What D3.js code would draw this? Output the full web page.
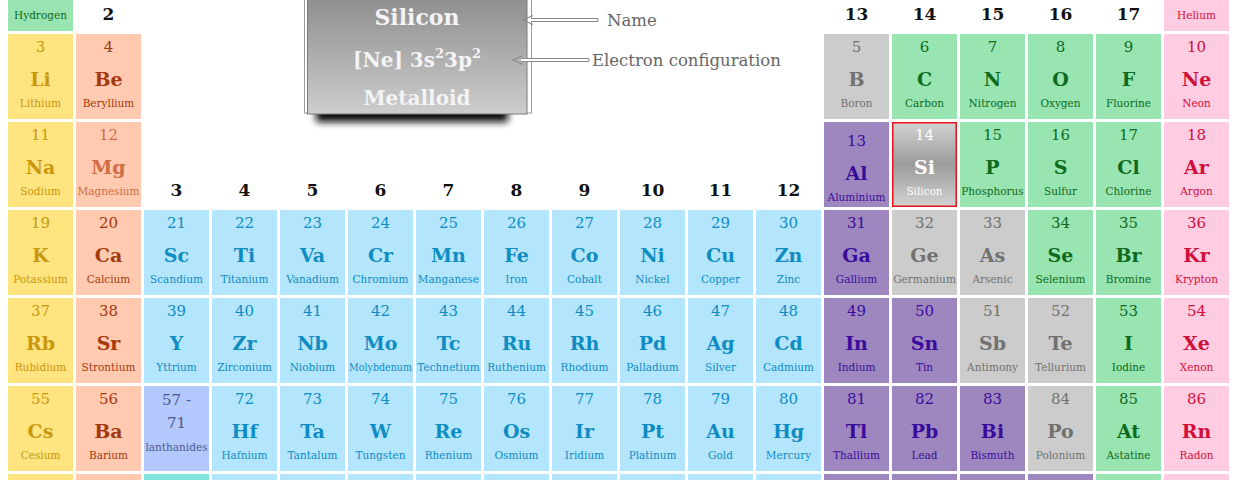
<!DOCTYPE html>
<html><head><meta charset="utf-8">
<script src="https://cdn.jsdelivr.net/npm/d3@7"></script>
<style>body{margin:0;background:#fff;overflow:hidden}svg{display:block}</style>
</head><body><svg id="chart" width="1238" height="480"></svg>
<script>
// ---------- DATA ----------
const atomicNumbers = [1,2,
  3,4,5,6,7,8,9,10,
  11,12,13,14,15,16,17,18,
  19,20,21,22,23,24,25,26,27,28,29,30,31,32,33,34,35,36,
  37,38,39,40,41,42,43,44,45,46,47,48,49,50,51,52,53,54,
  55,56,"57 - 71",72,73,74,75,76,77,78,79,80,81,82,83,84,85,86,
  87,88,"89 - 103",104,105,106,107,108,109,110,111,112,113,114,115,116,117,118];
const symbols = ["H","He",
  "Li","Be","B","C","N","O","F","Ne",
  "Na","Mg","Al","Si","P","S","Cl","Ar",
  "K","Ca","Sc","Ti","Va","Cr","Mn","Fe","Co","Ni","Cu","Zn","Ga","Ge","As","Se","Br","Kr",
  "Rb","Sr","Y","Zr","Nb","Mo","Tc","Ru","Rh","Pd","Ag","Cd","In","Sn","Sb","Te","I","Xe",
  "Cs","Ba","","Hf","Ta","W","Re","Os","Ir","Pt","Au","Hg","Tl","Pb","Bi","Po","At","Rn",
  "Fr","Ra","","Rf","Db","Sg","Bh","Hs","Mt","Ds","Rg","Cn","Nh","Fl","Mc","Lv","Ts","Og"];
const names = ["Hydrogen","Helium",
  "Lithium","Beryllium","Boron","Carbon","Nitrogen","Oxygen","Fluorine","Neon",
  "Sodium","Magnesium","Aluminium","Silicon","Phosphorus","Sulfur","Chlorine","Argon",
  "Potassium","Calcium","Scandium","Titanium","Vanadium","Chromium","Manganese","Iron","Cobalt","Nickel","Copper","Zinc","Gallium","Germanium","Arsenic","Selenium","Bromine","Krypton",
  "Rubidium","Strontium","Yttrium","Zirconium","Niobium","Molybdenum","Technetium","Ruthenium","Rhodium","Palladium","Silver","Cadmium","Indium","Tin","Antimony","Tellurium","Iodine","Xenon",
  "Cesium","Barium","lanthanides","Hafnium","Tantalum","Tungsten","Rhenium","Osmium","Iridium","Platinum","Gold","Mercury","Thallium","Lead","Bismuth","Polonium","Astatine","Radon",
  "Francium","Radium","actinides","Rutherfordium","Dubnium","Seaborgium","Bohrium","Hassium","Meitnerium","Darmstadtium","Roentgenium","Copernicium","Nihonium","Flerovium","Moscovium","Livermorium","Tennessine","Oganesson"];
const categories = ["non","nob",
  "alk","ae","met","non","non","non","non","nob",
  "alk","ae","post","sel","non","non","non","nob",
  "alk","ae","tr","tr","tr","tr","tr","tr","tr","tr","tr","tr","post","met","met","non","non","nob",
  "alk","ae","tr","tr","tr","tr","tr","tr","tr","tr","tr","tr","post","post","met","met","non","nob",
  "alk","ae","lan","tr","tr","tr","tr","tr","tr","tr","tr","tr","post","post","post","met","non","nob",
  "alk","ae","act","tr","tr","tr","tr","tr","tr","tr","tr","tr","post","post","post","post","non","nob"];
const periodGroups = [
  [1,18],
  [1,2,13,14,15,16,17,18],
  [1,2,13,14,15,16,17,18],
  d3.range(1,19), d3.range(1,19), d3.range(1,19), d3.range(1,19)];
const groupLabels = ["2","3","4","5","6","7","8","9","10","11","12","13","14","15","16","17"];
const groupLabelGroups = [2,3,4,5,6,7,8,9,10,11,12,13,14,15,16,17];
const groupLabelPeriods = [1,3,3,3,3,3,3,3,3,3,3,1,1,1,1,1];
const legendLines = ["Silicon","[Ne] 3s|2|3p|2","Metalloid"];
const callouts = ["Name","Electron configuration"];

// ---------- STYLE ----------
const fills = {alk:"#ffe480",ae:"#ffcab0",tr:"#b3e5fc",post:"#9e87bf",met:"#cccccc",non:"#99e5b1",nob:"#ffcce1",lan:"#b3c8fd",act:"#80e6dd",sel:"#aaa"};
const inks  = {alk:"#c9980c",ae:"#a3390d",tr:"#0f8cc2",post:"#3a0c9c",met:"#717171",non:"#0e6a1e",nob:"#cf0f3c",lan:"#4a5a8c",act:"#2a7873",sel:"#ffffff"};
const FONT = "'DejaVu Serif', serif";
const W = 1238, H = 480;

const elements = [];
let k = 0;
periodGroups.forEach((gs, pi) => gs.forEach(g => {
  elements.push({num: atomicNumbers[k], sym: symbols[k], name: names[k], cat: categories[k], group: g, period: pi + 1});
  k++;
}));

const svg = d3.select("#chart");
const x = d3.scaleLinear().domain([1, 2]).range([8, 76]);
const y = d3.scaleLinear().domain([2, 3]).range([34, 122]);
const CW = 65, CH = 85;

const defs = svg.append("defs");
const sg = defs.append("linearGradient").attr("id","siGrad").attr("x1",0).attr("y1",0).attr("x2",0).attr("y2",1);
sg.append("stop").attr("offset","0%").attr("stop-color","#d2d2d2");
sg.append("stop").attr("offset","50%").attr("stop-color","#9c9c9c");
sg.append("stop").attr("offset","100%").attr("stop-color","#d2d2d2");
const lg = defs.append("linearGradient").attr("id","legGrad").attr("x1",0).attr("y1",0).attr("x2",0).attr("y2",1);
lg.append("stop").attr("offset","0%").attr("stop-color","#858585");
lg.append("stop").attr("offset","100%").attr("stop-color","#cdcdcd");
defs.append("filter").attr("id","blur").attr("x","-20%").attr("y","-100%").attr("width","140%").attr("height","300%")
  .append("feGaussianBlur").attr("stdDeviation",3.5);

// ---------- CELLS ----------
const cells = svg.selectAll("g.cell").data(elements).join("g").attr("class","cell")
  .attr("transform", d => `translate(${x(d.group)},${y(d.period)})`);
cells.append("rect")
  .attr("fill", d => d.cat === "sel" ? "url(#siGrad)" : fills[d.cat])
  .attr("stroke", d => d.cat === "sel" ? "#e8131b" : "none")
  .attr("stroke-width", 1.5)
  .attr("x", d => d.cat === "sel" ? 0.75 : 0).attr("y", d => d.cat === "sel" ? 0.75 : 0)
  .attr("width", d => d.cat === "sel" ? CW - 1.5 : CW).attr("height", d => d.cat === "sel" ? CH - 1.5 : CH);

function fitText(sel, maxW) {
  sel.each(function(){ const w = this.getComputedTextLength(); if (w > maxW) d3.select(this).attr("textLength", maxW).attr("lengthAdjust","spacingAndGlyphs"); });
}
// only texts that reach into the picture are drawn
const visible = (d, off, half) => { const cy = y(d.period) + off; return cy + half > 0 && cy - half < H; };
const shift = d => d.sym === "Al" ? 6 : 0;
const inkOf = d => d.sym === "Mg" ? "#d06d47" : inks[d.cat];
const normal = elements.filter(d => d.cat !== "lan" && d.cat !== "act");

function addText(list, off, half, font, txt, fit) {
  const sel = svg.selectAll(null).data(list.filter(d => visible(d, off + shift(d), half))).join("text")
    .attr("x", d => x(d.group) + CW/2).attr("y", d => y(d.period) + off + shift(d))
    .attr("text-anchor","middle").attr("dominant-baseline","central")
    .style("font", font).attr("fill", inkOf).text(txt);
  if (fit) sel.call(fitText, 63);
  return sel;
}
addText(normal, 12.5, 9, `15px ${FONT}`, d => d.num);
addText(normal, 44.5, 10, `bold 19px ${FONT}`, d => d.sym);
addText(normal, 69, 7, `10.5px ${FONT}`, d => d.name, true);

const series = elements.filter(d => d.cat === "lan" || d.cat === "act");
addText(series, 14, 9, `15px ${FONT}`, d => String(d.num).split(" - ")[0] + " -");
addText(series, 37, 9, `15px ${FONT}`, d => String(d.num).split(" - ")[1]);
addText(series, 61, 7, `10.5px ${FONT}`, d => d.name, true);

// ---------- GROUP LABELS ----------
svg.selectAll("text.glabel").data(groupLabels).join("text").attr("class","glabel")
  .attr("x", (d,i) => x(groupLabelGroups[i]) + CW/2)
  .attr("y", (d,i) => y(groupLabelPeriods[i]) + 68)
  .attr("text-anchor","middle").attr("dominant-baseline","central")
  .style("font", `bold 17px ${FONT}`).attr("fill","#111").text(d => d);

// ---------- LEGEND ----------
const leg = svg.append("g");
leg.append("rect").attr("x",316).attr("y",107).attr("width",192).attr("height",15).attr("fill","#111").attr("filter","url(#blur)");
leg.append("rect").attr("x",304.5).attr("y",-20).attr("width",227).attr("height",133).attr("fill","#fff").attr("stroke","#9a9a9a");
leg.append("rect").attr("x",307.5).attr("y",-20).attr("width",219.5).attr("height",134).attr("fill","url(#legGrad)").attr("stroke","#7a7a7a");
const legY = [17, 60, 98], legSize = [22, 20, 20];
legendLines.forEach((line, i) => {
  const t = leg.append("text").attr("x",417).attr("y",legY[i]).attr("text-anchor","middle").attr("dominant-baseline","central")
    .style("font", `bold ${legSize[i]}px ${FONT}`).attr("fill","#f4f4f4");
  line.split("|").forEach((part, j) => {
    if (j % 2 === 1) t.append("tspan").attr("dy",-7).style("font-size","13px").text(part);
    else t.append("tspan").attr("dy", j === 0 ? 0 : 7).text(part);
  });
});
const arrowTips = [523, 513], arrowEnds = [598, 589], arrowY = [20, 60], labelX = [607, 592];
callouts.forEach((c, i) => {
  const ty = arrowY[i], tx = arrowTips[i], ex = arrowEnds[i];
  leg.append("path").attr("d", `M${tx+8},${ty-1.5}H${ex}V${ty+1.5}H${tx+8}`).attr("fill","#fff").attr("stroke","#8a8a8a").attr("stroke-width",1);
  leg.append("path").attr("d", `M${tx+10},${ty-4.5}L${tx},${ty}L${tx+10},${ty+4.5}`).attr("fill","none").attr("stroke","#8a8a8a").attr("stroke-width",1.2);
  leg.append("text").attr("x", labelX[i]).attr("y", ty).attr("dominant-baseline","central")
    .style("font", `16.5px ${FONT}`).attr("fill","#666").text(c);
});
</script></body></html>
